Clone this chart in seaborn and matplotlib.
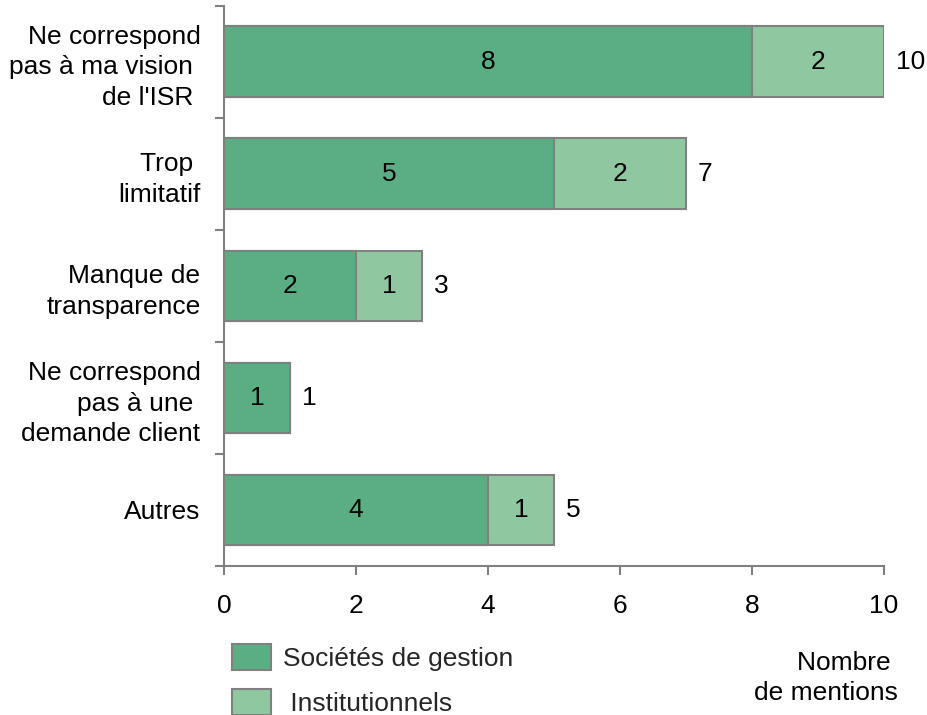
import matplotlib
matplotlib.use("Agg")
import matplotlib.pyplot as plt
import seaborn as sns
import pandas as pd
import numpy as np

# ---- data ----
categories = [
    "Ne correspond\npas à ma vision \nde l'ISR ",
    "Trop \nlimitatif",
    "Manque de\ntransparence",
    "Ne correspond\npas à une \ndemande client",
    "Autres",
]
societes = [8, 5, 2, 1, 4]
institutionnels = [2, 2, 1, 0, 1]
series_names = ["Sociétés de gestion", " Institutionnels"]
x_ticks = [0, 2, 4, 6, 8, 10]
x_title = "Nombre \nde mentions"

# ---- style ----
dark = "#5BAE83"
light = "#8FC8A0"
gray = "#808080"
fs = 19

sns.set_theme(style="white")
plt.rcParams['font.family'] = ['Liberation Sans', 'DejaVu Sans']

totals = [s + i for s, i in zip(societes, institutionnels)]
df = pd.DataFrame({"cat": categories, "soc": societes,
                   "inst": institutionnels, "total": totals})

fig = plt.figure(figsize=(9.28, 7.15), dpi=100)
ax = fig.add_axes([224 / 928, 1 - 566 / 715, 660 / 928, 560.3 / 715])

sns.barplot(data=df, y="cat", x="total", orient="h", color=light, saturation=1,
            edgecolor=gray, linewidth=1.5, width=0.63, ax=ax)
sns.barplot(data=df, y="cat", x="soc", orient="h", color=dark, saturation=1,
            edgecolor=gray, linewidth=1.5, width=0.63, ax=ax)

tot_cont = ax.containers[0]
soc_cont = ax.containers[1]

ax.bar_label(soc_cont, labels=[str(v) for v in societes], label_type="center",
             fontsize=fs, color="black")
ax.bar_label(tot_cont, labels=[str(v) for v in totals], padding=8.5,
             fontsize=fs, color="black")
for k, (s, i) in enumerate(zip(societes, institutionnels)):
    if i > 0:
        ax.text(s + i / 2, k, str(i), ha="center", va="center",
                fontsize=fs, color="black")

ax.set_xlim(0, 10)
ax.set_ylim(4.5, -0.5)
ax.set_xticks(x_ticks)
ax.set_xticklabels([str(t) for t in x_ticks])
ax.set_xlabel("")
ax.set_ylabel("")

ax.set_yticks(np.arange(-0.5, 5, 1), minor=True)
ax.tick_params(axis="y", which="major", length=0, pad=17, labelsize=fs,
               labelcolor="black")
ax.tick_params(axis="y", which="minor", left=True, length=6.5, width=1.5,
               color=gray)
ax.tick_params(axis="x", which="major", bottom=True, length=6.5, width=1.5,
               color=gray, pad=14, labelsize=fs, labelcolor="black")
for t in ax.get_yticklabels():
    t.set_linespacing(1.34)

for side in ["top", "right"]:
    ax.spines[side].set_visible(False)
for side in ["left", "bottom"]:
    ax.spines[side].set_color(gray)
    ax.spines[side].set_linewidth(1.5)

fig.legend(handles=[soc_cont, tot_cont], labels=series_names,
           loc="upper left", bbox_to_anchor=(232 / 928, 1 - 644 / 715),
           frameon=False, borderpad=0, borderaxespad=0,
           handlelength=1.48, handleheight=1.14, handletextpad=0.45,
           labelspacing=0.68, fontsize=fs)

fig.text(898 / 928, 1 - 678 / 715, x_title, ha="right", va="center",
         fontsize=fs, linespacing=1.28, multialignment="right", color="black")

fig.savefig("out.png", dpi=100)
